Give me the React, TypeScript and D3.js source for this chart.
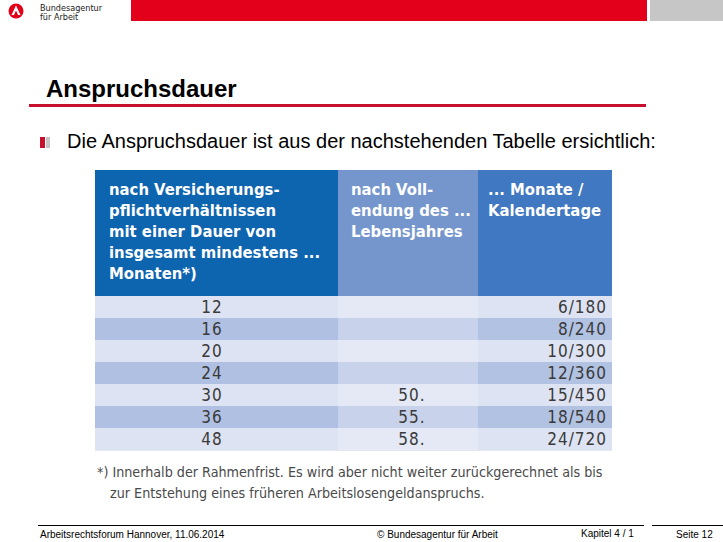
import React from "react";
import * as d3 from "d3";

const headerCol1 = ["nach Versicherungs-", "pflichtverhältnissen", "mit einer Dauer von", "insgesamt mindestens ...", "Monaten*)"];
const headerCol2 = ["nach Voll-", "endung des ...", "Lebensjahres"];
const headerCol3 = ["... Monate /", "Kalendertage"];
const months = ["12", "16", "20", "24", "30", "36", "48"];
const ages = ["", "", "", "", "50.", "55.", "58."];
const durations = ["6/180", "8/240", "10/300", "12/360", "15/450", "18/540", "24/720"];
const footnote = ["*) Innerhalb der Rahmenfrist. Es wird aber nicht weiter zurückgerechnet als bis", "zur Entstehung eines früheren Arbeitslosengeldanspruchs."];

const W = 723, H = 542;
const TL = 95, TR = 612;
const colEdges = [95, 338, 478, 612];
const headTop = 170, headBottom = 296, tableBottom = 450;

const headColors = ["#0d64af", "#7596cc", "#4078c1"];
const lightRow = ["#dde3f2", "#e4e9f5", "#dde3f2"];
const darkRow = ["#afc0e2", "#c8d3eb", "#b1c2e3"];

export default function App() {
  const y = d3.scaleBand<number>().domain(d3.range(months.length)).range([headBottom, tableBottom]).padding(0);
  const headerFont = { fontFamily: "'DejaVu Sans Condensed', 'Liberation Sans Narrow', sans-serif", fontWeight: 700, fontSize: 16.5, fill: "#ffffff", fontStretch: "condensed" } as any;
  const cellFont = { fontFamily: "'DejaVu Sans Condensed', 'Liberation Sans Narrow', sans-serif", fontSize: 17, fill: "#3a3a3a", fontStretch: "condensed", letterSpacing: 1 } as any;
  const noteFont = { fontFamily: "'DejaVu Sans Condensed', 'Liberation Sans Narrow', sans-serif", fontSize: 14.2, fill: "#4a4a4a", fontStretch: "condensed" } as any;
  const headers = [headerCol1, headerCol2, headerCol3];
  const headX = [109, 351, 488];
  return (
    <svg width={W} height={H} style={{ position: "absolute", left: 0, top: 0, background: "#fff" }}>
      <rect x={0} y={0} width={W} height={H} fill="#ffffff" />
      {/* logo */}
      <circle cx={16} cy={11} r={7.5} fill="#e2001a" />
      <path d="M16,5.5 L20.5,15 L18,15 L16,10.5 L14,15 L11.5,15 Z" fill="#fff" />
      <text x={40} y={11} fontFamily="'Liberation Sans Narrow', 'DejaVu Sans Condensed', sans-serif" fontSize={9} fill="#222">Bundesagentur</text>
      <text x={40} y={20} fontFamily="'Liberation Sans Narrow', 'DejaVu Sans Condensed', sans-serif" fontSize={9} fill="#222">für Arbeit</text>
      <rect x={131} y={0} width={516} height={21} fill="#e2001a" />
      <rect x={650} y={0} width={73} height={21} fill="#c6c6c6" />

      {/* title */}
      <text x={46} y={97} fontFamily="'Liberation Sans', Arial, sans-serif" fontWeight={700} fontSize={24} fill="#000">Anspruchsdauer</text>
      <rect x={29} y={104} width={617} height={3} fill="#c8102e" />

      {/* bullet */}
      <rect x={40} y={137} width={5} height={11} fill="#c8102e" />
      <rect x={46} y={137} width={4} height={11} fill="#c6c6c6" />
      <text x={67} y={148} fontFamily="'Liberation Sans', Arial, sans-serif" fontSize={20} fill="#000">Die Anspruchsdauer ist aus der nachstehenden Tabelle ersichtlich:</text>

      {/* table header */}
      {headColors.map((c, i) => (
        <rect key={"h" + i} x={colEdges[i]} y={headTop} width={colEdges[i + 1] - colEdges[i]} height={headBottom - headTop} fill={c} />
      ))}
      {headers.map((lines, i) => (
        <g key={"ht" + i}>
          {lines.map((l, j) => (
            <text key={j} x={headX[i]} y={195 + j * 21} style={headerFont}>{l}</text>
          ))}
        </g>
      ))}

      {/* rows */}
      {months.map((m, r) => {
        const fills = r % 2 === 0 ? lightRow : darkRow;
        const yy = y(r)!;
        const cy = yy + y.bandwidth() / 2 + 6;
        return (
          <g key={"r" + r}>
            {fills.map((f, i) => (
              <rect key={i} x={colEdges[i]} y={yy} width={colEdges[i + 1] - colEdges[i]} height={y.bandwidth()} fill={f} />
            ))}
            <text x={212} y={cy} textAnchor="middle" style={cellFont}>{m}</text>
            <text x={412} y={cy} textAnchor="middle" style={cellFont}>{ages[r]}</text>
            <text x={607} y={cy} textAnchor="end" style={cellFont}>{durations[r]}</text>
          </g>
        );
      })}
      <rect x={TL} y={tableBottom} width={TR - TL} height={1} fill="#e3e8f3" />

      {/* footnote */}
      <text x={97} y={477} style={noteFont}>{footnote[0]}</text>
      <text x={110} y={498} style={noteFont}>{footnote[1]}</text>

      {/* footer */}
      <rect x={38} y={525} width={606} height={1} fill="#000" />
      <rect x={652} y={525} width={71} height={1} fill="#000" />
      <text x={40} y={538} fontFamily="'Liberation Sans', Arial, sans-serif" fontSize={10} fill="#000">Arbeitsrechtsforum Hannover, 11.06.2014</text>
      <text x={377} y={538} fontFamily="'Liberation Sans', Arial, sans-serif" fontSize={10} fill="#000">© Bundesagentur für Arbeit</text>
      <text x={581} y={537} fontFamily="'Liberation Sans', Arial, sans-serif" fontSize={10} fill="#000">Kapitel 4 / 1</text>
      <text x={676} y={538} fontFamily="'Liberation Sans', Arial, sans-serif" fontSize={10} fill="#000">Seite 12</text>
    </svg>
  );
}
